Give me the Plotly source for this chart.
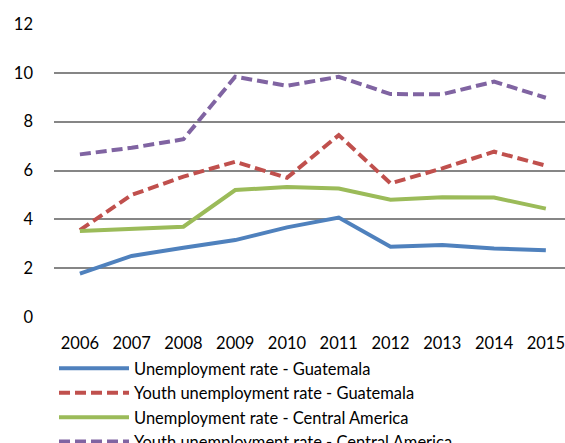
import plotly.graph_objects as go

years = ["2006", "2007", "2008", "2009", "2010", "2011", "2012", "2013", "2014", "2015"]
unemp_gt = [1.78, 2.50, 2.84, 3.15, 3.67, 4.07, 2.88, 2.95, 2.81, 2.73]
youth_gt = [3.56, 5.00, 5.75, 6.36, 5.70, 7.45, 5.47, 6.09, 6.77, 6.20]
unemp_ca = [3.52, 3.59, 3.70, 5.20, 5.32, 5.26, 4.80, 4.90, 4.89, 4.44]
youth_ca = [6.66, 6.93, 7.28, 9.84, 9.47, 9.84, 9.13, 9.12, 9.64, 8.98]

names = ["Unemployment rate - Guatemala", "Youth unemployment rate - Guatemala",
         "Unemployment rate - Central America", "Youth unemployment rate - Central America"]
colors = ["#4F81BD", "#C0504D", "#9BBB59", "#8064A2"]
dashes = ["solid", "11px,5px", "solid", "11px,5px"]
series = [unemp_gt, youth_gt, unemp_ca, youth_ca]

fig = go.Figure()
xs = list(range(len(years)))
for i, (s, n, c, d) in enumerate(zip(series, names, colors, dashes)):
    fig.add_trace(go.Scatter(x=xs, y=s, mode="lines", name=n, legendgroup=f"g{i}",
                             line=dict(color=c, width=4, dash=d)))

W, H = 565, 443
ml, mt, mb = 54, 24, 126
ph = H - mt - mb
pw = W - ml
fig.update_layout(
    width=W, height=H,
    margin=dict(l=ml, r=0, t=mt, b=mb, autoexpand=False),
    paper_bgcolor="white", plot_bgcolor="white",
    font=dict(family="Lato", size=16.5, color="#000000"),
    showlegend=True,
    legend=dict(orientation="v", x=(54 - ml) / pw, xanchor="left",
                y=-(351 - (H - mb)) / ph, yanchor="top",
                font=dict(family="Lato", size=16.5), itemwidth=70,
                tracegroupgap=0, bgcolor="rgba(0,0,0,0)"),
    xaxis=dict(range=[-0.5, 9.37], tickmode="array", tickvals=xs, ticktext=years,
               tickangle=0, showgrid=False, zeroline=False, showline=False, ticks="",
               ticklabelstandoff=14, fixedrange=True),
    yaxis=dict(range=[0, 12], tickvals=[0, 2, 4, 6, 8, 10, 12],
               showgrid=True, gridcolor="#868686", gridwidth=1.6,
               zeroline=False, showline=False, ticks="",
               ticklabelstandoff=20, fixedrange=True),
)
fig.add_annotation(text="<b>Figure 1: Unemployment</b>", xref="paper", yref="paper",
                   x=0.0, xanchor="left", y=1 + (mt + 5) / ph, yanchor="bottom",
                   showarrow=False, font=dict(family="Lato", size=19))
fig.write_html("out.html")
